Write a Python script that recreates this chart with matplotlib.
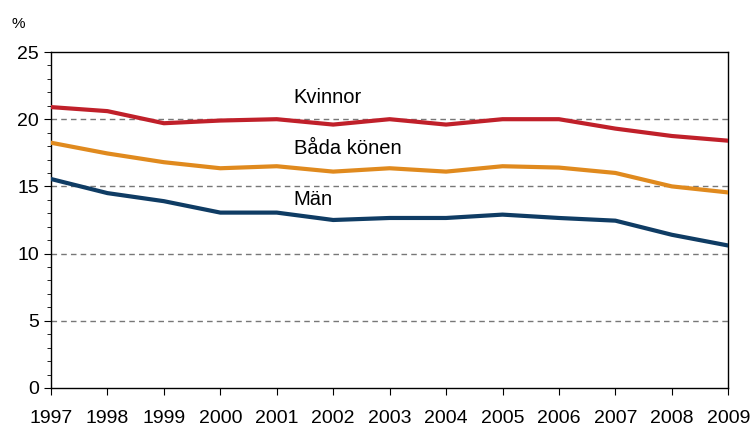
import matplotlib
matplotlib.use('Agg')
import matplotlib.pyplot as plt
from matplotlib.ticker import MultipleLocator

plt.rcParams['font.family'] = ['Liberation Sans', 'DejaVu Sans']

# Data
years = list(range(1997, 2010))
kvinnor = [20.9, 20.6, 19.7, 19.9, 20.0, 19.6, 20.0, 19.6, 20.0, 20.0, 19.3, 18.75, 18.4]
bada = [18.25, 17.45, 16.8, 16.35, 16.5, 16.1, 16.35, 16.1, 16.5, 16.4, 16.0, 15.0, 14.55]
man = [15.55, 14.5, 13.9, 13.05, 13.05, 12.5, 12.65, 12.65, 12.9, 12.65, 12.45, 11.4, 10.6]

fig = plt.figure(figsize=(7.5, 4.28), dpi=100)
ax = fig.add_axes([0.068, 0.0935, 0.903, 0.785])

for y in [5, 10, 15, 20]:
    ax.axhline(y, color='#777777', linestyle=(0, (4, 3)), linewidth=1, zorder=1)

ax.plot(years, kvinnor, color='#C0202A', linewidth=3, zorder=3)
ax.plot(years, bada, color='#E08A1E', linewidth=3, zorder=3)
ax.plot(years, man, color='#0F3C64', linewidth=3, zorder=3)

ax.text(2001.3, 21.65, 'Kvinnor', fontsize=14.5, va='center')
ax.text(2001.3, 17.85, 'Båda könen', fontsize=14.5, va='center')
ax.text(2001.3, 14.0, 'Män', fontsize=14.5, va='center')

ax.set_xlim(1997, 2009)
ax.set_ylim(0, 25)
ax.set_xticks(years)
ax.yaxis.set_major_locator(MultipleLocator(5))
ax.yaxis.set_minor_locator(MultipleLocator(1))
ax.tick_params(axis='both', which='major', direction='out', length=5, labelsize=14)
ax.tick_params(axis='y', which='minor', direction='out', length=3)
ax.tick_params(axis='x', pad=11)
for s in ax.spines.values():
    s.set_linewidth(1)

fig.text(0.015, 0.945, '%', fontsize=11, va='center')

fig.savefig('out.png', dpi=100)
